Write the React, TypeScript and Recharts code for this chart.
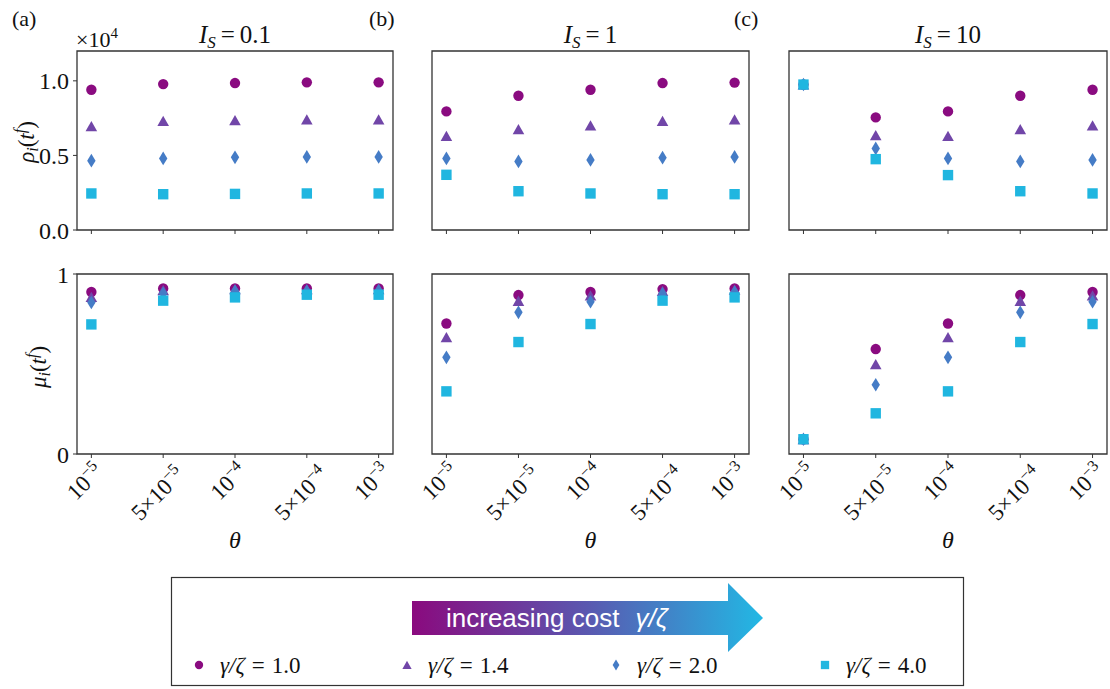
import React from 'react';
import { ScatterChart, Scatter, XAxis, YAxis, ReferenceArea } from 'recharts';

// theta tick labels: optional mantissa + power of ten
const thetaPrefix = ['', '5×', '', '5×', ''];
const thetaExponent = ['−5', '−5', '−4', '−4', '−3'];
const thetaIndex = [0, 1, 2, 3, 4];

// cost ratios and their marker styles
const gammaRatios = ['1.0', '1.4', '2.0', '4.0'];
const markerColors = ['#8a0b80', '#7146a8', '#457cc6', '#20b6e0'];
const markerKinds = ['circle', 'triangle', 'diamond', 'square'];

const sourceStrengths = ['0.1', '1', '10'];
const panelLetters = ['(a)', '(b)', '(c)'];

const rhoTicks = [0, 5000, 10000];
const muTicks = [0, 1];

// rho_i(t^f), I_S = 0.1
const rho01_g10 = [9400, 9780, 9850, 9900, 9900];
const rho01_g14 = [6950, 7300, 7350, 7400, 7400];
const rho01_g20 = [4650, 4800, 4870, 4900, 4900];
const rho01_g40 = [2450, 2400, 2420, 2450, 2450];
// rho_i(t^f), I_S = 1
const rho1_g10 = [7950, 9000, 9400, 9850, 9880];
const rho1_g14 = [6300, 6750, 7000, 7300, 7400];
const rho1_g20 = [4800, 4600, 4700, 4850, 4900];
const rho1_g40 = [3700, 2600, 2450, 2400, 2400];
// rho_i(t^f), I_S = 10
const rho10_g10 = [9750, 7550, 7950, 9000, 9400];
const rho10_g14 = [9750, 6350, 6300, 6750, 7000];
const rho10_g20 = [9750, 5470, 4800, 4600, 4700];
const rho10_g40 = [9750, 4750, 3680, 2600, 2450];

// mu_i(t^f), I_S = 0.1
const mu01_g10 = [0.9, 0.92, 0.92, 0.92, 0.92];
const mu01_g14 = [0.872, 0.91, 0.915, 0.915, 0.915];
const mu01_g20 = [0.842, 0.893, 0.905, 0.905, 0.908];
const mu01_g40 = [0.72, 0.852, 0.87, 0.885, 0.885];
// mu_i(t^f), I_S = 1
const mu1_g10 = [0.725, 0.883, 0.9, 0.916, 0.92];
const mu1_g14 = [0.648, 0.85, 0.88, 0.905, 0.912];
const mu1_g20 = [0.537, 0.787, 0.846, 0.89, 0.9];
const mu1_g40 = [0.348, 0.622, 0.722, 0.852, 0.87];
// mu_i(t^f), I_S = 10
const mu10_g10 = [0.082, 0.583, 0.725, 0.883, 0.9];
const mu10_g14 = [0.082, 0.498, 0.648, 0.85, 0.88];
const mu10_g20 = [0.082, 0.385, 0.537, 0.787, 0.846];
const mu10_g40 = [0.082, 0.226, 0.348, 0.622, 0.722];

const rhoPanels = [
  [rho01_g10, rho01_g14, rho01_g20, rho01_g40],
  [rho1_g10, rho1_g14, rho1_g20, rho1_g40],
  [rho10_g10, rho10_g14, rho10_g20, rho10_g40],
];
const muPanels = [
  [mu01_g10, mu01_g14, mu01_g20, mu01_g40],
  [mu1_g10, mu1_g14, mu1_g20, mu1_g40],
  [mu10_g10, mu10_g14, mu10_g20, mu10_g40],
];

// plot-area geometry
const colLeft = [77, 432, 789];
const colWidth = [316, 317, 318];
const rowTop = [51, 274];
const rowHeight = [179, 180];

const SERIF = '"Liberation Serif", "Times New Roman", serif';
const SANS = '"Liberation Sans", Arial, sans-serif';
const INK = '#111';
const FRAME = '#333';

const Marker = ({ cx, cy, kind, color, s = 1 }: any) => {
  if (cx == null || cy == null) return null;
  if (kind === 'circle') return <circle cx={cx} cy={cy} r={5.2 * s} fill={color} />;
  if (kind === 'triangle')
    return (
      <polygon
        points={`${cx},${cy - 5.4 * s} ${cx + 5.8 * s},${cy + 5 * s} ${cx - 5.8 * s},${cy + 5 * s}`}
        fill={color}
      />
    );
  if (kind === 'diamond')
    return (
      <polygon
        points={`${cx},${cy - 6.8 * s} ${cx + 4.2 * s},${cy} ${cx},${cy + 6.8 * s} ${cx - 4.2 * s},${cy}`}
        fill={color}
      />
    );
  return <rect x={cx - 5.2 * s} y={cy - 5.2 * s} width={10.4 * s} height={10.4 * s} fill={color} />;
};

const ThetaTick = (props: any) => {
  const { x, y, payload } = props;
  const i = payload.value;
  const long = thetaPrefix[i] !== '';
  return (
    <g transform={`translate(${x + (long ? 0 : -1)},${y + (long ? 39 : 27)})`}>
      <text transform="rotate(-45)" textAnchor="middle" fontFamily={SERIF} fontSize={23} fill={INK}>
        {thetaPrefix[i]}10
        <tspan dy={-9} fontSize={16}>
          {thetaExponent[i]}
        </tspan>
      </text>
    </g>
  );
};

const Panel = ({ col, row }: { col: number; row: number }) => {
  const isRho = row === 0;
  const series = isRho ? rhoPanels[col] : muPanels[col];
  const yMax = isRho ? 12000 : 1;
  const YW = 60;
  const MT = 14;
  const MR = 5;
  const XH = isRho ? 20 : 100;
  const width = YW + colWidth[col] + MR;
  const height = MT + rowHeight[row] + XH;
  const showY = col === 0;

  return (
    <div style={{ position: 'absolute', left: colLeft[col] - YW, top: rowTop[row] - MT }}>
      <ScatterChart width={width} height={height} margin={{ top: MT, right: MR, bottom: 0, left: 0 }}>
        <XAxis
          type="number"
          dataKey="x"
          domain={[-0.2, 4.2]}
          ticks={thetaIndex}
          interval={0}
          allowDataOverflow
          height={XH}
          axisLine={false}
          tickLine={{ stroke: FRAME }}
          tickSize={4}
          tick={isRho ? { fontSize: 1 } : <ThetaTick />}
          tickFormatter={isRho ? () => '' : undefined}
        />
        <YAxis
          type="number"
          dataKey="y"
          domain={[0, yMax]}
          ticks={isRho ? rhoTicks : muTicks}
          interval={0}
          allowDataOverflow
          width={YW}
          axisLine={false}
          tickSize={4}
          tickMargin={4}
          tickLine={showY ? { stroke: FRAME } : false}
          tick={showY ? { fontFamily: SERIF, fontSize: 24, fill: INK } : false}
          tickFormatter={(v: number) => (isRho ? (v / 10000).toFixed(1) : String(v))}
        />
        {series.map((vals, k) => (
          <Scatter
            key={k}
            name={`γ/ζ = ${gammaRatios[k]}`}
            data={vals.map((v, i) => ({ x: thetaIndex[i], y: v }))}
            isAnimationActive={false}
            shape={(p: any) => <Marker cx={p.cx} cy={p.cy} kind={markerKinds[k]} color={markerColors[k]} />}
          />
        ))}
        <ReferenceArea
          x1={-0.2}
          x2={4.2}
          y1={0}
          y2={yMax}
          fill="none"
          stroke={FRAME}
          strokeWidth={1.3}
          ifOverflow="visible"
        />
      </ScatterChart>
    </div>
  );
};

const legendX = [199, 407, 616, 825];

const AxisLabel = ({ x, y, sym }: { x: number; y: number; sym: string }) => (
  <text transform={`translate(${x},${y}) rotate(-90)`} textAnchor="middle" fontSize={23}>
    <tspan fontStyle="italic">{sym}</tspan>
    <tspan fontStyle="italic" fontSize={16} dy={4}>
      i
    </tspan>
    <tspan dy={-4}>(</tspan>
    <tspan fontStyle="italic">t</tspan>
    <tspan fontStyle="italic" fontSize={16} dy={-9}>
      f
    </tspan>
    <tspan dy={9}>)</tspan>
  </text>
);

const App = () => {
  return (
    <div style={{ position: 'relative', width: 1110, height: 689, background: '#fff' }}>
      <style>{'body{margin:0}'}</style>
      {[0, 1].map((row) => [0, 1, 2].map((col) => <Panel key={`${row}-${col}`} col={col} row={row} />))}

      <svg
        width={1110}
        height={689}
        style={{ position: 'absolute', left: 0, top: 0, pointerEvents: 'none' }}
        fontFamily={SERIF}
        fill={INK}
      >
        <defs>
          <linearGradient id="costGrad" x1="0" y1="0" x2="1" y2="0">
            <stop offset="0%" stopColor="#8a0a7e" />
            <stop offset="50%" stopColor="#5a58b0" />
            <stop offset="100%" stopColor="#22b8e4" />
          </linearGradient>
        </defs>

        {/* panel letters and titles */}
        {panelLetters.map((t, c) => (
          <text key={t} x={[12, 369, 734][c]} y={26} fontSize={22}>
            {t}
          </text>
        ))}
        {sourceStrengths.map((v, c) => (
          <text key={v} x={colLeft[c] + colWidth[c] / 2} y={43} fontSize={25} textAnchor="middle">
            <tspan fontStyle="italic">I</tspan>
            <tspan fontStyle="italic" fontSize={17} dy={5}>
              S
            </tspan>
            <tspan dy={-5} dx={5}>
              =
            </tspan>
            <tspan dx={5}>{v}</tspan>
          </text>
        ))}

        {/* offset factor for the rho axis */}
        <text x={76} y={47} fontSize={22}>
          ×10
          <tspan dy={-9} fontSize={15}>
            4
          </tspan>
        </text>

        {/* y-axis labels */}
        <AxisLabel x={34} y={142} sym="ρ" />
        <AxisLabel x={46} y={367} sym="μ" />

        {/* x-axis labels */}
        {colLeft.map((l, c) => (
          <text key={c} x={l + colWidth[c] / 2} y={548} fontSize={24} fontStyle="italic" textAnchor="middle">
            θ
          </text>
        ))}

        {/* legend box */}
        <rect x={171.5} y={577.5} width={792} height={108} fill="#fff" stroke={FRAME} strokeWidth={1.2} />
        <polygon points="412,601 728,601 728,583 763,618 728,652 728,635 412,635" fill="url(#costGrad)" />
        <text x={446} y={627} fontSize={26} fill="#fff" fontFamily={SANS}>
          increasing cost
          <tspan dx={16} fontStyle="italic">
            γ/ζ
          </tspan>
        </text>
        {gammaRatios.map((g, k) => (
          <g key={g}>
            <Marker cx={legendX[k]} cy={665} kind={markerKinds[k]} color={markerColors[k]} s={0.8} />
            <text x={legendX[k] + 21} y={673} fontSize={23}>
              <tspan fontStyle="italic">γ/ζ</tspan>
              <tspan dx={7}>=</tspan>
              <tspan dx={7}>{g}</tspan>
            </text>
          </g>
        ))}
      </svg>
    </div>
  );
};

export default App;
